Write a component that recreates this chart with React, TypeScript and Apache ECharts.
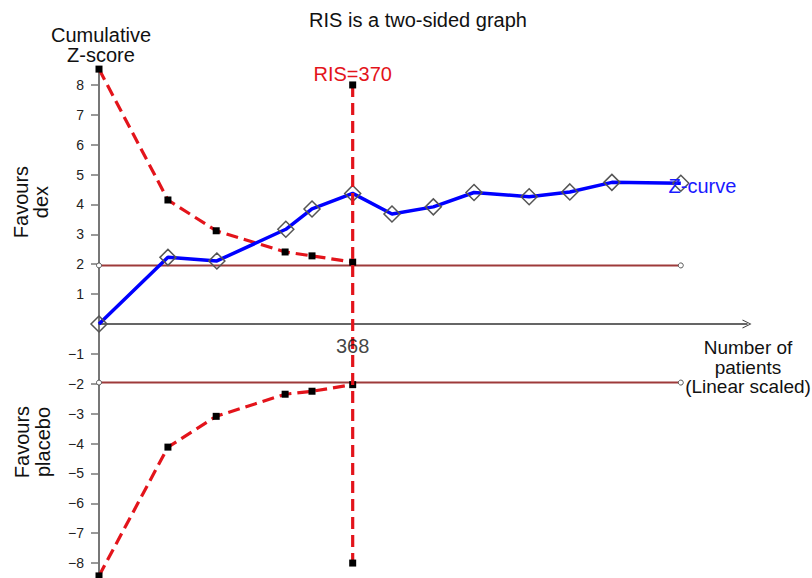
import React, { useEffect, useRef } from "react";
import * as echarts from "echarts";

// Cumulative number of patients at each analysis
const zPatients = [0, 100, 171, 271, 309, 368, 425, 485, 544, 624, 683, 744, 844];
// Cumulative Z-scores (Z-curve)
const zScores = [0, 2.23, 2.11, 3.17, 3.85, 4.37, 3.68, 3.92, 4.4, 4.26, 4.42, 4.74, 4.71];

// Monitoring boundaries (two-sided)
const boundPatients = [0, 100, 170, 270, 309, 368];
const upperBound = [8.53, 4.15, 3.12, 2.41, 2.28, 2.07];
const lowerBound = [-8.43, -4.12, -3.09, -2.35, -2.25, -2.03];

// Conventional significance lines
const convZ = [1.96, -1.96];
const convRange = [0, 844];

// Required information size
const risPatients = 368;
const risRange = [8, -8];
const risLabel = "RIS=370";

const yTicks = [-8, -7, -6, -5, -4, -3, -2, -1, 1, 2, 3, 4, 5, 6, 7, 8];
const xTicks = [368];

const FONT = "Liberation Sans, Arial, sans-serif";

export default function App() {
  const ref = useRef<HTMLDivElement>(null);

  useEffect(() => {
    if (!ref.current) return;
    const chart = echarts.init(ref.current, null, { renderer: "svg" });

    const pairs = (xs: number[], ys: number[]) => xs.map((x, i) => [x, ys[i]]);

    const redDash = {
      color: "#e3141b",
      width: 3.2,
      type: [12, 6] as any,
    };

    const option: any = {
      animation: false,
      textStyle: { fontFamily: FONT },
      grid: { left: 99, top: 70, width: 648, height: 508, outerBoundsMode: "none", containLabel: false },
      xAxis: {
        type: "value",
        min: 0,
        max: 940,
        axisLine: {
          onZero: true,
          lineStyle: { color: "#333", width: 1.5 },
          symbol: ["none", "path://M0,10 L5,0 L10,10 L9,10 L5,2 L1,10 Z"],
          symbolSize: [15, 9],
        },
        axisTick: { show: true, customValues: xTicks, length: 4, lineStyle: { color: "#333" } },
        axisLabel: { show: false },
        splitLine: { show: false },
      },
      yAxis: {
        type: "value",
        min: -8.5,
        max: 8.5,
        axisLine: { show: true, onZero: false, lineStyle: { color: "#777", width: 2 } },
        axisTick: { show: true, customValues: yTicks, length: 8, lineStyle: { color: "#777", width: 1.5 } },
        axisLabel: {
          customValues: yTicks,
          fontSize: 14,
          color: "#222",
          margin: 15,
          fontFamily: FONT,
          formatter: (v: number) => (v < 0 ? "\u2212" + Math.abs(v) : String(v)),
        },
        splitLine: { show: false },
      },
      series: [
        ...convZ.map((z) => ({
          type: "line",
          data: convRange.map((x) => [x, z]),
          symbol: "circle",
          symbolSize: 5,
          clip: false,
          lineStyle: { color: "#9e3a3a", width: 2 },
          itemStyle: { color: "#fff", borderColor: "#555", borderWidth: 1 },
          z: 2,
        })),
        {
          type: "line",
          data: pairs(boundPatients, upperBound),
          symbol: "rect",
          symbolSize: 7,
          clip: false,
          lineStyle: redDash,
          itemStyle: { color: "#000" },
          z: 3,
        },
        {
          type: "line",
          data: pairs(boundPatients, lowerBound),
          symbol: "rect",
          symbolSize: 7,
          clip: false,
          lineStyle: redDash,
          itemStyle: { color: "#000" },
          z: 3,
        },
        {
          type: "line",
          data: pairs(zPatients, zScores).map((p, i, arr) =>
            i === arr.length - 1
              ? {
                  value: p,
                  label: {
                    show: true,
                    formatter: "Z-curve",
                    position: "right",
                    distance: 0,
                    offset: [-21, 3],
                    color: "#1a1aff",
                    fontSize: 20,
                    fontFamily: FONT,
                  },
                }
              : p
          ),
          symbol: "diamond",
          symbolSize: 16,
          clip: false,
          lineStyle: { color: "#0000ff", width: 3.5 },
          itemStyle: { color: "transparent", borderColor: "#555", borderWidth: 1.5 },
          z: 4,
        },
        {
          type: "line",
          data: risRange.map((y, i) =>
            i === 0
              ? {
                  value: [risPatients, y],
                  label: {
                    show: true,
                    formatter: risLabel,
                    position: "top",
                    distance: 2,
                    offset: [0, 5],
                    color: "#e3141b",
                    fontSize: 20,
                    fontFamily: FONT,
                  },
                }
              : [risPatients, y]
          ),
          symbol: "rect",
          symbolSize: 7,
          clip: false,
          lineStyle: redDash,
          itemStyle: { color: "#000" },
          z: 5,
        },
        {
          // x-axis tick label placed on the zero line
          type: "scatter",
          data: xTicks.map((x) => [x, 0]),
          symbolSize: 0,
          clip: false,
          silent: true,
          label: {
            show: true,
            position: "bottom",
            distance: 12,
            formatter: (p: any) => String(p.value[0]),
            color: "#111",
            fontSize: 20,
            fontFamily: FONT,
          },
          z: 6,
        },
      ],
      graphic: [
        {
          type: "text",
          x: 418,
          y: 20,
          style: {
            text: "RIS is a two-sided graph",
            fontSize: 20,
            fontFamily: FONT,
            fill: "#111",
            textAlign: "center",
            textVerticalAlign: "middle",
          },
        },
        {
          type: "text",
          x: 101,
          y: 45,
          style: {
            text: "Cumulative\nZ-score",
            fontSize: 20,
            lineHeight: 20,
            fontFamily: FONT,
            fill: "#111",
            textAlign: "center",
            textVerticalAlign: "middle",
          },
        },
        {
          type: "text",
          x: 31,
          y: 202,
          rotation: Math.PI / 2,
          style: {
            text: "Favours\ndex",
            fontSize: 20,
            lineHeight: 20,
            fontFamily: FONT,
            fill: "#111",
            textAlign: "center",
            textVerticalAlign: "middle",
          },
        },
        {
          type: "text",
          x: 32,
          y: 442,
          rotation: Math.PI / 2,
          style: {
            text: "Favours\nplacebo",
            fontSize: 20,
            lineHeight: 21,
            fontFamily: FONT,
            fill: "#111",
            textAlign: "center",
            textVerticalAlign: "middle",
          },
        },
        {
          type: "text",
          x: 748,
          y: 367,
          style: {
            text: "Number of\npatients\n(Linear scaled)",
            fontSize: 19,
            lineHeight: 19.5,
            fontFamily: FONT,
            fill: "#111",
            textAlign: "center",
            textVerticalAlign: "middle",
          },
        },
      ],
    };

    chart.setOption(option);
    return () => chart.dispose();
  }, []);

  return (
    <div
      ref={ref}
      style={{ position: "absolute", left: 0, top: 0, width: 812, height: 578 }}
    />
  );
}
